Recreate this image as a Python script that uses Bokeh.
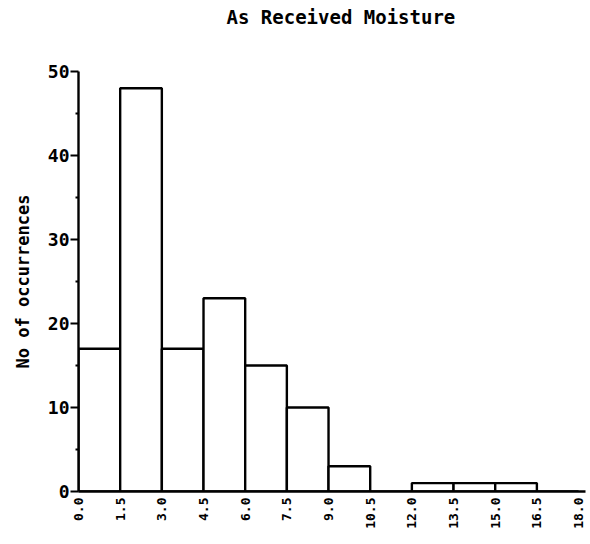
import math

from bokeh.embed import file_html
from bokeh.models import ColumnDataSource, FixedTicker, PrintfTickFormatter, Range1d, Title
from bokeh.plotting import figure
from bokeh.resources import INLINE

# Histogram of as-received moisture, bins of 1.5 units
bin_edges = [0.0, 1.5, 3.0, 4.5, 6.0, 7.5, 9.0, 10.5, 12.0, 13.5, 15.0, 16.5, 18.0]
counts = [17, 48, 17, 23, 15, 10, 3, 0, 1, 1, 1, 0]

y_major = [0, 10, 20, 30, 40, 50]
y_minor = [5, 15, 25, 35, 45]

FONT = "DejaVu Sans Mono"

source = ColumnDataSource(dict(
    left=bin_edges[:-1],
    right=bin_edges[1:],
    top=counts,
    bottom=[0] * len(counts),
))

p = figure(
    width=590,
    height=544,
    output_backend="svg",
    toolbar_location=None,
    x_range=Range1d(0, 18.25),
    y_range=Range1d(0, 50),
    min_border_left=78,
    min_border_right=5,
    min_border_top=70,
    min_border_bottom=53,
    title="As Received Moisture",
)

p.quad(left="left", right="right", bottom="bottom", top="top", source=source,
       fill_color="white", line_color="black", line_width=2.4)

# Title, with an empty spacer panel between it and the frame
p.title.text_font = FONT
p.title.text_font_size = "19px"
p.title.text_font_style = "bold"
p.title.text_color = "black"
p.title.align = "left"
p.title.offset = 148
p.title.standoff = 6
p.add_layout(Title(text=" ", text_font_size="1px", standoff=38), "above")

# Frame and grid
p.outline_line_color = None
p.xgrid.grid_line_color = None
p.ygrid.grid_line_color = None
p.background_fill_color = "white"
p.border_fill_color = "white"

# X axis: bin edges as vertical labels, no tick marks
xa = p.xaxis[0]
xa.ticker = FixedTicker(ticks=bin_edges)
xa.formatter = PrintfTickFormatter(format="%.1f")
xa.major_label_orientation = math.pi / 2
xa.major_tick_out = 0
xa.major_tick_in = 0
xa.minor_tick_out = 0
xa.minor_tick_in = 0
xa.axis_line_width = 2.4
xa.axis_line_color = "black"
xa.major_label_text_font = FONT
xa.major_label_text_font_style = "bold"
xa.major_label_text_font_size = "13px"
xa.major_label_text_color = "black"
xa.major_label_standoff = 6

# Y axis
ya = p.yaxis[0]
ya.ticker = FixedTicker(ticks=y_major, minor_ticks=y_minor)
ya.major_tick_out = 8
ya.major_tick_in = 0
ya.minor_tick_out = 3
ya.minor_tick_in = 0
ya.major_tick_line_width = 2.2
ya.minor_tick_line_width = 2
ya.axis_line_width = 2.4
ya.axis_line_color = "black"
ya.major_label_text_font = FONT
ya.major_label_text_font_style = "bold"
ya.major_label_text_font_size = "18px"
ya.major_label_text_color = "black"
ya.major_label_standoff = 1
ya.axis_label = "No of occurrences"
ya.axis_label_text_font = FONT
ya.axis_label_text_font_style = "bold"
ya.axis_label_text_font_size = "17px"
ya.axis_label_text_color = "black"
ya.axis_label_standoff = 12

open("out.html", "w").write(file_html(p, INLINE))
